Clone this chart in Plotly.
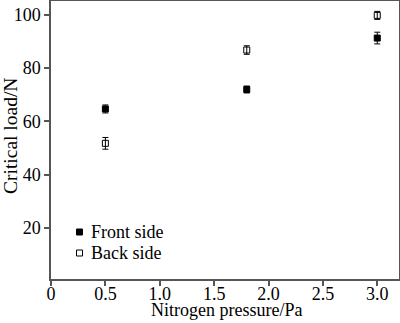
import plotly.graph_objects as go

# Nitrogen pressure (Pa) and measured critical load (N)
pressure = [0.5, 1.8, 3.0]
front_load = [64.7, 72.0, 91.3]
front_err = [1.5, 1.3, 2.2]
back_load = [51.8, 86.8, 99.8]
back_err = [2.2, 1.6, 1.5]
series_names = ["Front side", "Back side"]

FONT = "Liberation Serif, Times New Roman, serif"
AXIS_COLOR = "#555555"
W, H = 400, 323
L, R, T, B = 51, 1, 1, 44

fig = go.Figure()
fig.add_trace(go.Scatter(
    x=pressure, y=front_load, mode="markers", name=series_names[0],
    marker=dict(symbol="square", size=6, color="black",
                line=dict(color="black", width=1)),
    error_y=dict(type="data", array=front_err, color="black", thickness=1, width=3),
))
fig.add_trace(go.Scatter(
    x=pressure, y=back_load, mode="markers", name=series_names[1],
    marker=dict(symbol="square-open", size=6, color="black",
                line=dict(color="black", width=1)),
    error_y=dict(type="data", array=back_err, color="black", thickness=1, width=3),
))

axis_common = dict(
    showline=True, linecolor=AXIS_COLOR, linewidth=1.5, mirror=True,
    ticks="outside", ticklen=5, tickcolor=AXIS_COLOR, tickwidth=1.5,
    showgrid=False, zeroline=False, automargin=False,
    tickfont=dict(family=FONT, size=18, color="black"),
)

# helpers: pixel position -> paper coordinates
pw, ph = W - L - R, H - T - B
def px(x):
    return (x - L) / pw
def py(y):
    return (H - B - y) / ph

annotations = [
    dict(text="Nitrogen pressure/Pa", x=px(226), y=py(310), xref="paper", yref="paper",
         xanchor="center", yanchor="middle", showarrow=False,
         font=dict(family=FONT, size=18, color="black")),
    dict(text="Critical load/N", x=px(10), y=py(136), xref="paper", yref="paper",
         xanchor="center", yanchor="middle", showarrow=False, textangle=-90,
         font=dict(family=FONT, size=19.5, color="black")),
]
shapes = []
# legend: marker squares and labels
legend_rows = [(232, "black"), (253, "white")]
for (ly, fill), name in zip(legend_rows, series_names):
    shapes.append(dict(type="rect", xref="paper", yref="paper",
                       x0=px(76.5), x1=px(82.5), y0=py(ly + 3), y1=py(ly - 3),
                       fillcolor=fill, line=dict(color="black", width=1)))
    annotations.append(dict(text=name, x=px(89), y=py(ly), xref="paper", yref="paper",
                            xanchor="left", yanchor="middle", showarrow=False,
                            font=dict(family=FONT, size=18, color="black")))

fig.update_layout(
    width=W, height=H,
    margin=dict(l=L, r=R, t=T, b=B),
    paper_bgcolor="white", plot_bgcolor="white",
    font=dict(family=FONT, size=18, color="black"),
    showlegend=False,
    annotations=annotations,
    shapes=shapes,
    xaxis=dict(range=[0, 3.2], tickvals=[0, 0.5, 1.0, 1.5, 2.0, 2.5, 3.0],
               ticktext=["0", "0.5", "1.0", "1.5", "2.0", "2.5", "3.0"],
               ticklabelstandoff=-7, **axis_common),
    yaxis=dict(range=[0.9, 105.2], tickvals=[20, 40, 60, 80, 100],
               **axis_common),
)

fig.write_html("out.html")
